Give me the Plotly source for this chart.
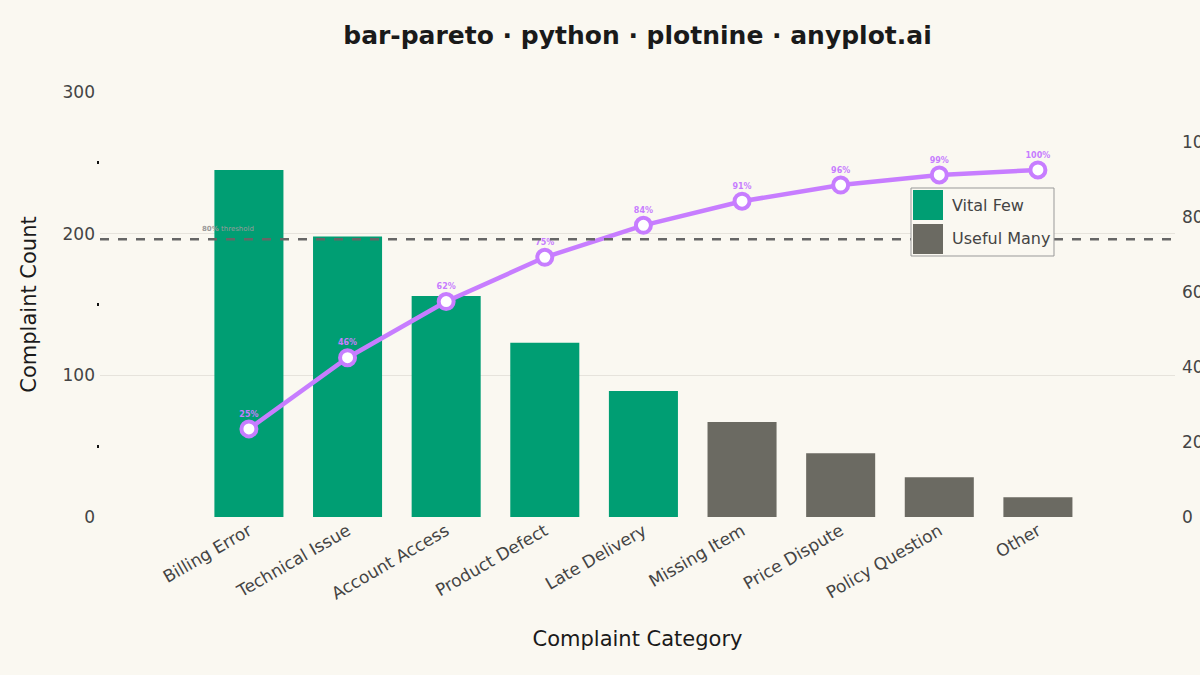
import plotly.graph_objects as go
import numpy as np

# data
categories = ["Billing Error", "Technical Issue", "Account Access", "Product Defect",
              "Late Delivery", "Missing Item", "Price Dispute", "Policy Question", "Other"]
counts = [245, 198, 156, 123, 89, 67, 45, 28, 14]
n_vital = 5
threshold_pct = 80
group_names = ["Vital Few", "Useful Many"]

cum_pct = np.cumsum(counts) / np.sum(counts) * 100
# cumulative line is drawn on the count axis, scaled so 100% sits at the tallest bar
line_y = cum_pct / 100 * counts[0]

GREEN = "#009E73"
GRAY = "#6B6A62"
PURPLE = "#C77DFF"
BG = "#FAF8F1"
FONT = "DejaVu Sans"
group_colors = [GREEN, GRAY]

fig = go.Figure()

fig.add_trace(go.Bar(
    x=categories[:n_vital], y=counts[:n_vital], name=group_names[0],
    marker=dict(color=GREEN, line=dict(width=0)), width=0.7, showlegend=False,
))
fig.add_trace(go.Bar(
    x=categories[n_vital:], y=counts[n_vital:], name=group_names[1],
    marker=dict(color=GRAY, line=dict(width=0)), width=0.7, showlegend=False,
))

# 80% threshold
fig.add_trace(go.Scatter(
    x=[-1.51, 9.39], y=[threshold_pct / 100 * counts[0]] * 2, xaxis="x2",
    mode="lines", line=dict(color="#666666", width=2.5, dash="dash"),
    showlegend=False, hoverinfo="skip",
))

fig.add_trace(go.Scatter(
    x=categories, y=line_y, mode="lines+markers+text",
    line=dict(color=PURPLE, width=4.5),
    marker=dict(size=15, color="white", line=dict(color=PURPLE, width=4)),
    text=[f"{p:.0f}%" for p in cum_pct], textposition="top center",
    textfont=dict(size=8, color=PURPLE, family=FONT, weight="bold"),
    showlegend=False,
))

# invisible trace to activate the secondary percentage axis
fig.add_trace(go.Scatter(
    x=categories, y=cum_pct, yaxis="y2", mode="markers",
    marker=dict(opacity=0), showlegend=False, hoverinfo="skip",
))

fig.add_annotation(
    x=-0.5, y=threshold_pct / 100 * counts[0], xref="x", yref="y",
    text="<b>80%</b> threshold", showarrow=False, xanchor="left", yanchor="bottom",
    yshift=4, font=dict(size=7, color="#9A9A9A", family=FONT),
)

# legend box drawn by hand (plotly's bar legend swatches are too small)
def px_x(p):
    return (p - 100) / 1075


def px_y(p):
    return (517 - p) / 425


fig.add_shape(type="rect", xref="paper", yref="paper",
              x0=px_x(911), x1=px_x(1054), y0=px_y(256), y1=px_y(188),
              line=dict(color="#999999", width=1), fillcolor=BG, layer="above")
for i, (name, col) in enumerate(zip(group_names, group_colors)):
    top = 190 + i * 34
    fig.add_shape(type="rect", xref="paper", yref="paper",
                  x0=px_x(913), x1=px_x(943), y0=px_y(top + 30), y1=px_y(top),
                  line=dict(width=0), fillcolor=col, layer="above")
    fig.add_annotation(x=px_x(950), y=px_y(top + 15), xref="paper", yref="paper",
                       text=name, showarrow=False, xanchor="left", yanchor="middle",
                       font=dict(size=16, color="#444444", family=FONT))

fig.update_layout(
    width=1200, height=675,
    paper_bgcolor=BG, plot_bgcolor=BG,
    margin=dict(l=100, r=25, t=92, b=158, autoexpand=False),
    barmode="overlay",
    showlegend=False,
    font=dict(family=FONT, color="#444444"),
    title=dict(
        text="bar-pareto · python · plotnine · anyplot.ai",
        x=0.5, xref="paper", y=0.948, yanchor="middle",
        font=dict(size=25, color="#1A1A1A", family=FONT, weight="bold"),
    ),
    xaxis=dict(
        categoryorder="array", categoryarray=categories,
        range=[-1.51, 9.39], tickangle=-30,
        tickfont=dict(size=17, color="#444444"),
        title=dict(text="Complaint Category", font=dict(size=21, color="#1A1A1A"), standoff=28),
        showgrid=False, zeroline=False, showline=False, ticks="",
        automargin=False,
    ),
    xaxis2=dict(
        overlaying="x", range=[-1.51, 9.39], visible=False,
    ),
    yaxis=dict(
        range=[0, 300], tickvals=[0, 100, 200, 300],
        tickfont=dict(size=17, color="#444444"), ticklabelstandoff=4,
        title=dict(text="Complaint Count", font=dict(size=21, color="#1A1A1A"), standoff=20),
        showgrid=True, gridcolor="#E6E3DC", gridwidth=1,
        zeroline=False, showline=False, ticks="",
        minor=dict(tickvals=[50, 150, 250], ticks="outside", ticklen=2,
                   tickwidth=3, tickcolor="#111111", showgrid=False),
        automargin=False,
    ),
    yaxis2=dict(
        overlaying="y", side="right", range=[0, 100 * 425 / 375],
        tickvals=[0, 20, 40, 60, 80, 100], ticksuffix="%",
        tickfont=dict(size=17, color="#444444"), ticklabelstandoff=6,
        showgrid=False, zeroline=False, showline=False, ticks="",
        automargin=False,
    ),
)

fig.write_html("out.html", config={"displayModeBar": False},
               post_script="document.body.style.margin='0';")
